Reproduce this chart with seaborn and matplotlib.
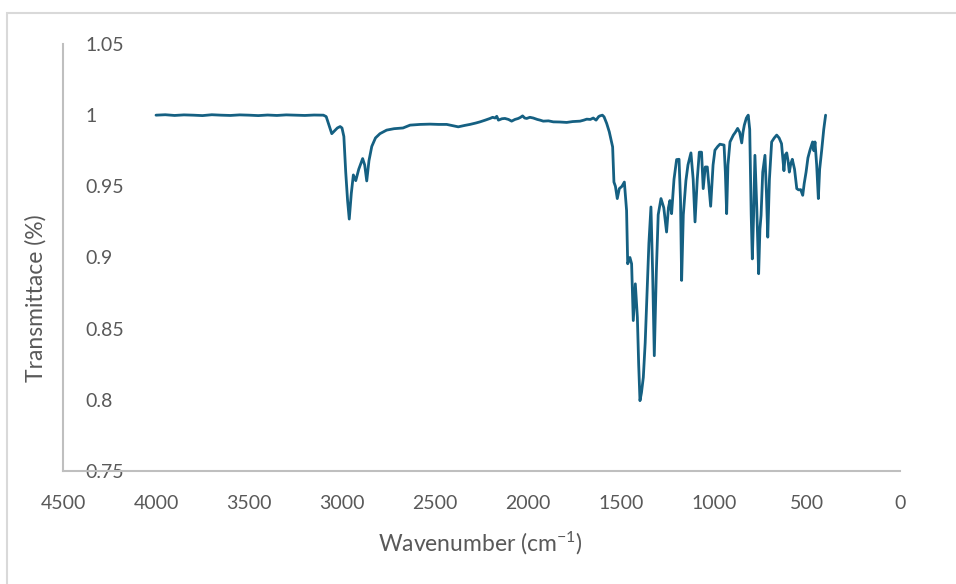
import matplotlib
matplotlib.use("Agg")
import matplotlib.pyplot as plt
import seaborn as sns
import pandas as pd
from matplotlib.patches import Rectangle

# FTIR spectrum: wavenumber (cm-1) and transmittance
wavenumber = [
    4000, 3950, 3900, 3850, 3800, 3750, 3700, 3650, 3600, 3550, 3500, 3450,
    3400, 3350, 3300, 3250, 3200, 3150, 3100, 3085, 3070, 3055, 3040, 3025,
    3010, 3000, 2990, 2980, 2970, 2961, 2950, 2939, 2926, 2910, 2889, 2878,
    2867, 2855, 2840, 2820, 2796, 2760, 2720, 2672, 2634, 2580, 2527, 2480,
    2437, 2400, 2375, 2340, 2312, 2280, 2258, 2230, 2204, 2190, 2177, 2168,
    2159, 2140, 2124, 2105, 2088, 2070, 2052, 2040, 2029, 2018, 2007, 1990,
    1972, 1950, 1935, 1918, 1890, 1864, 1830, 1792, 1760, 1720, 1700, 1684,
    1665, 1649, 1634, 1620, 1613, 1600, 1591, 1577, 1563, 1545, 1538, 1530,
    1520, 1509, 1495, 1482, 1470, 1464, 1452, 1443, 1434, 1423, 1412, 1405,
    1398, 1390, 1380, 1370, 1362, 1350, 1339, 1330, 1321, 1310, 1300, 1285,
    1270, 1255, 1245, 1237, 1228, 1215, 1201, 1188, 1180, 1174, 1165, 1151,
    1140, 1124, 1112, 1102, 1090, 1079, 1067, 1058, 1047, 1036, 1018, 1005,
    995, 980, 968, 946, 939, 932, 925, 914, 896, 885, 873, 862,
    851, 844, 837, 826, 816, 808, 800, 794, 787, 780, 770, 760,
    753, 747, 738, 726, 718, 711, 702, 690, 676, 663, 650, 637,
    624, 617, 609, 602, 595, 587, 579, 567, 555, 545, 534, 523,
    515, 505, 495, 484, 470, 463, 457, 448, 439, 432, 421, 410,
    400,
]
transmittance = [
    1.000, 1.0003, 0.9998, 1.0002, 1.000, 0.9997, 1.0003, 1.000, 0.9998, 1.0002, 1.000, 0.9997,
    1.0001, 0.9998, 1.0002, 1.000, 0.9998, 1.0001, 1.000, 0.999, 0.993, 0.987, 0.989, 0.991,
    0.992, 0.991, 0.985, 0.960, 0.940, 0.927, 0.945, 0.958, 0.954, 0.962, 0.9695, 0.965,
    0.9538, 0.968, 0.978, 0.984, 0.987, 0.9895, 0.9905, 0.991, 0.993, 0.9935, 0.9937, 0.9935,
    0.9935, 0.9925, 0.9918, 0.9928, 0.9935, 0.9945, 0.9953, 0.9965, 0.9977, 0.9985, 0.998, 0.9992,
    0.9965, 0.9975, 0.9977, 0.997, 0.9958, 0.997, 0.9977, 0.9985, 0.9995, 0.998, 0.9977, 0.9985,
    0.998, 0.997, 0.9965, 0.9958, 0.996, 0.9953, 0.9952, 0.9949, 0.9955, 0.9958, 0.9965, 0.9972,
    0.997, 0.998, 0.9965, 0.999, 0.9995, 1.000, 0.9988, 0.9942, 0.9883, 0.9777, 0.953, 0.950,
    0.9414, 0.9484, 0.950, 0.953, 0.933, 0.8956, 0.900, 0.8956, 0.8557, 0.8815, 0.858, 0.825,
    0.7994, 0.805, 0.8158, 0.840, 0.8675, 0.910, 0.9355, 0.890, 0.831, 0.890, 0.930, 0.9414,
    0.935, 0.9179, 0.935, 0.940, 0.9308, 0.955, 0.9688, 0.969, 0.940, 0.8839, 0.930, 0.954,
    0.965, 0.9735, 0.955, 0.925, 0.955, 0.974, 0.974, 0.9484, 0.9636, 0.9636, 0.936, 0.965,
    0.9754, 0.978, 0.9796, 0.979, 0.960, 0.9308, 0.965, 0.9812, 0.986, 0.988, 0.9907, 0.988,
    0.9805, 0.988, 0.993, 0.998, 1.000, 0.990, 0.930, 0.899, 0.930, 0.9718, 0.935, 0.8886,
    0.920, 0.9296, 0.960, 0.9718, 0.945, 0.9143, 0.955, 0.9812, 0.984, 0.986, 0.984, 0.980,
    0.961, 0.972, 0.9735, 0.968, 0.960, 0.966, 0.969, 0.962, 0.9484, 0.9475, 0.9477, 0.9437,
    0.952, 0.960, 0.970, 0.9754, 0.9812, 0.975, 0.9812, 0.965, 0.9414, 0.962, 0.9754, 0.990,
    1.000,
]
x_ticks = [4500, 4000, 3500, 3000, 2500, 2000, 1500, 1000, 500, 0]
y_ticks = [0.75, 0.8, 0.85, 0.9, 0.95, 1.0, 1.05]
y_tick_labels = ["0.75", "0.8", "0.85", "0.9", "0.95", "1", "1.05"]

df = pd.DataFrame({"wavenumber": wavenumber, "transmittance": transmittance})

sns.set_theme(style="white")
plt.rcParams["font.family"] = ["Lato", "DejaVu Sans"]
plt.rcParams["mathtext.default"] = "regular"

text_color = "#595959"
axis_color = "#bfbfbf"
line_color = "#156082"

fig = plt.figure(figsize=(9.56, 5.84), dpi=100)
ax = fig.add_axes([63 / 956, 1 - 471 / 584, (900 - 63) / 956, (471 - 44) / 584])

sns.lineplot(data=df, x="wavenumber", y="transmittance", ax=ax,
             color=line_color, linewidth=2.0, estimator=None, sort=False)

ax.set_xlim(4500, 0)
ax.set_ylim(0.75, 1.05)
ax.set_xticks(x_ticks)
ax.set_xticklabels([str(t) for t in x_ticks])
ax.set_yticks(y_ticks)
ax.set_yticklabels(y_tick_labels)

for side in ("top", "right"):
    ax.spines[side].set_visible(False)
for side in ("left", "bottom"):
    ax.spines[side].set_color(axis_color)
    ax.spines[side].set_linewidth(1.5)

ax.tick_params(axis="x", length=0, pad=17, labelsize=14, labelcolor=text_color)
ax.tick_params(axis="y", length=0, pad=-16, labelsize=14, labelcolor=text_color)
for lbl in ax.get_yticklabels():
    lbl.set_horizontalalignment("left")

ax.set_xlabel("Wavenumber (cm$^{-1}$)", fontsize=16.5, color=text_color)
ax.set_ylabel("Transmittace (%)", fontsize=16.5, color=text_color)
ax.xaxis.set_label_coords((480 - 63) / (900 - 63), (471 - 530) / (471 - 44))
ax.yaxis.set_label_coords((47 - 63) / (900 - 63), (471 - 298) / (471 - 44))

# light frame around the chart area
fig.patches.append(Rectangle((7 / 956, -0.02), 1.05, 1 - 13 / 584 + 0.02,
                             transform=fig.transFigure, fill=False,
                             edgecolor="#d9d9d9", linewidth=1.5))

fig.savefig("out.png", dpi=100)
